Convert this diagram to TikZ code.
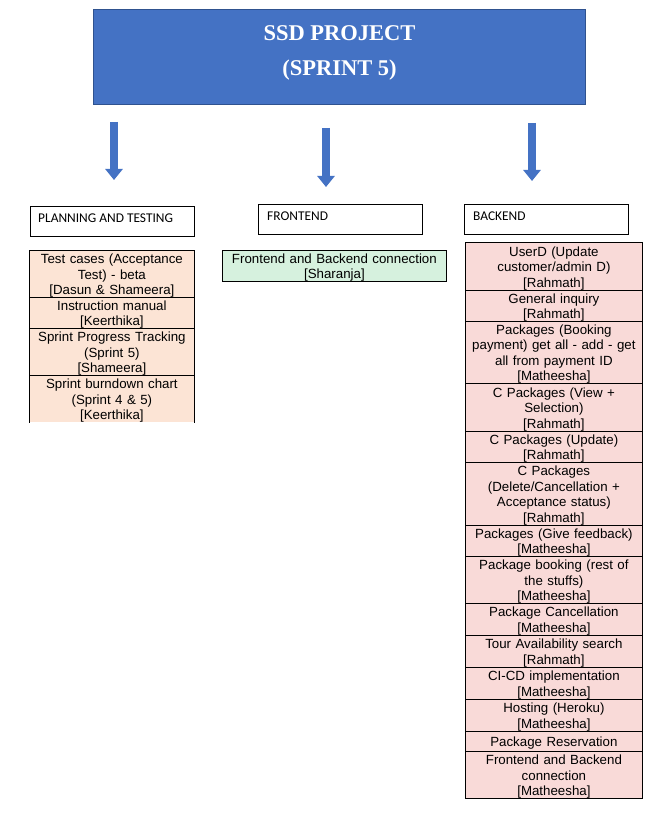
\documentclass[tikz,border=0pt]{standalone}
\usepackage{fontspec}
\setmainfont{Liberation Sans}
\newfontfamily\arialfont{Liberation Sans}
\newfontfamily\calibrifont{Carlito}
\newfontfamily\timesfont{Liberation Serif}
\usetikzlibrary{arrows.meta}
\definecolor{titleblue}{HTML}{4472C4}
\definecolor{titleedge}{HTML}{2F528F}
\definecolor{peach}{HTML}{FCE4D5}
\definecolor{pinkcell}{HTML}{F9DAD8}
\definecolor{greencell}{HTML}{D6F1DE}
\tikzset{
  titlebox/.style={draw=titleedge, fill=titleblue, line width=0.8pt},
  blockarrow/.style={draw=titleblue, line width=8pt, -{Triangle[width=17pt,length=11pt]}},
  header/.style={draw=black, line width=0.8pt, fill=white},
  headtext/.style={anchor=west, inner sep=0pt, font=\calibrifont\fontsize{13.4}{15}\selectfont},
  cellbase/.style={anchor=north west, draw=black, line width=0.8pt, inner sep=0pt},
  celltext/.style={inner sep=0pt, align=center, font=\arialfont\fontsize{13.3}{15.5}\selectfont},
  lcell/.style={cellbase, fill=peach, minimum width=165pt},
  mcell/.style={cellbase, fill=greencell, minimum width=224pt},
  rcell/.style={cellbase, fill=pinkcell, minimum width=177pt},
}
% \mycell{name}{style}{x}{y}{height}{text width}{text}
\newcommand{\mycell}[7]{%
  \node[#2, minimum height=#5pt] (#1) at (#3,#4) {};
  \node[celltext, text width=#6pt] (#1t) at ([yshift=-1.8pt]#1.center) {#7};
}
\begin{document}
\begin{tikzpicture}[x=1pt,y=-1pt]
\useasboundingbox (0,0) rectangle (665,818);
\fill[white] (0,0) rectangle (665,818);

% title
\node[titlebox, anchor=north west, minimum width=492pt, minimum height=95pt, inner sep=0pt] (title) at (93,9) {};
\node[text=white, font=\timesfont\bfseries\fontsize{22.5}{26}\selectfont, inner sep=0pt] (t1) at (339.5,33) {SSD PROJECT};
\node[text=white, font=\timesfont\bfseries\fontsize{22.5}{26}\selectfont, inner sep=0pt] (t2) at (339.5,70) {(SPRINT 5)};

% arrows
\coordinate (a1s) at (114,122); \coordinate (a1e) at (114,180);
\coordinate (a2s) at (326,128); \coordinate (a2e) at (326,187);
\coordinate (a3s) at (532,123); \coordinate (a3e) at (532,181);
\draw[blockarrow] (a1s) -- (a1e);
\draw[blockarrow] (a2s) -- (a2e);
\draw[blockarrow] (a3s) -- (a3e);

% headers
\draw[header] (30,206) rectangle (194,236);
\node[headtext] (h1) at (38,218) {PLANNING AND TESTING};
\draw[header] (258,204) rectangle (422,234);
\node[headtext] (h2) at (267,216) {FRONTEND};
\draw[header] (464,204) rectangle (628,234);
\node[headtext] (h3) at (473,216) {BACKEND};

% left column
\mycell{l1}{lcell}{29}{250}{47}{161}{Test cases (Acceptance\\Test) - beta\\{}[Dasun \& Shameera]}
\mycell{l2}{lcell}{29}{297}{31}{161}{Instruction manual\\{}[Keerthika]}
\mycell{l3}{lcell}{29}{328}{47}{161}{Sprint Progress Tracking\\(Sprint 5)\\{}[Shameera]}
\mycell{l4}{lcell, draw=none}{29}{375}{47}{161}{Sprint burndown chart\\(Sprint 4 \& 5)\\{}[Keerthika]}
\draw[line width=0.8pt] (l4.south west) -- (l4.north west) -- (l4.north east) -- (l4.south east);

% middle column
\mycell{m1}{mcell}{222}{250}{31}{220}{Frontend and Backend connection\\{}[Sharanja]}

% right column
\mycell{r1}{rcell}{465}{242}{48}{173}{UserD (Update\\customer/admin D)\\{}[Rahmath]}
\mycell{r2}{rcell}{465}{290}{31}{173}{General inquiry\\{}[Rahmath]}
\mycell{r3}{rcell}{465}{321}{62}{173}{Packages (Booking\\payment) get all - add - get\\all from payment ID\\{}[Matheesha]}
\mycell{r4}{rcell}{465}{383}{48}{173}{C Packages (View +\\Selection)\\{}[Rahmath]}
\mycell{r5}{rcell}{465}{431}{31}{173}{C Packages (Update)\\{}[Rahmath]}
\mycell{r6}{rcell}{465}{462}{63}{173}{C Packages\\(Delete/Cancellation +\\Acceptance status)\\{}[Rahmath]}
\mycell{r7}{rcell}{465}{525}{31}{173}{Packages (Give feedback)\\{}[Matheesha]}
\mycell{r8}{rcell}{465}{556}{47}{173}{Package booking (rest of\\the stuffs)\\{}[Matheesha]}
\mycell{r9}{rcell}{465}{603}{32}{173}{Package Cancellation\\{}[Matheesha]}
\mycell{r10}{rcell}{465}{635}{32}{173}{Tour Availability search\\{}[Rahmath]}
\mycell{r11}{rcell}{465}{667}{32}{173}{CI-CD implementation\\{}[Matheesha]}
\mycell{r12}{rcell}{465}{699}{32}{173}{Hosting (Heroku)\\{}[Matheesha]}
\mycell{r13}{rcell}{465}{731}{20}{173}{Package Reservation}
\mycell{r14}{rcell}{465}{751}{47}{173}{Frontend and Backend\\connection\\{}[Matheesha]}
\end{tikzpicture}
\end{document}
